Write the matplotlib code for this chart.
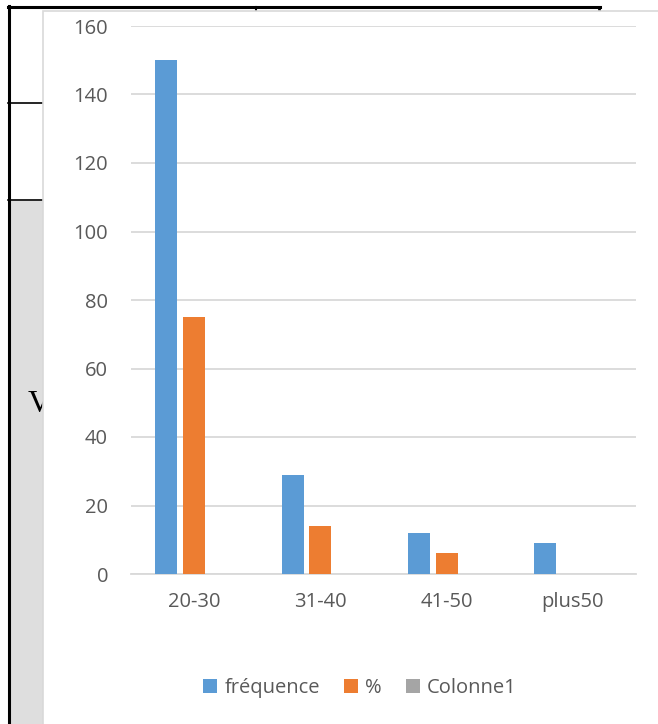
import numpy as np
import matplotlib.pyplot as plt
from matplotlib.patches import Rectangle
from matplotlib.lines import Line2D

categories = ['20-30', '31-40', '41-50', 'plus50']
frequence = [150, 29, 12, 9]
pourcent = [75, 14, 6, 0]
colonne1 = [0, 0, 0, 0]
series_names = ['fréquence', '%', 'Colonne1']
colors = ['#5b9bd5', '#ed7d31', '#a5a5a5']

plt.rcParams['font.family'] = ['Open Sans', 'DejaVu Sans']
W, H = 658, 724
fig = plt.figure(figsize=(W / 100, H / 100), dpi=100)


def px(x, y):
    return x / W, 1 - y / H


# word table behind the chart
fig.patches.append(Rectangle(px(10, H + 5), 34 / W, (H + 5 - 201) / H, transform=fig.transFigure,
                             facecolor='#dedede', edgecolor='none', zorder=-3))
fig.text(*px(28, 412), 'V', family='Liberation Serif', fontsize=23, color='black', zorder=-2)
for xs, ys, lw in [((9, 9), (6, H + 5), 2.2), ((8, 600), (7, 7), 2.2), ((599, 599), (7, 11), 2.0),
                   ((256, 256), (7, 11), 1.5), ((8, 43), (103, 103), 1.2), ((8, 43), (200, 200), 1.2)]:
    fig.lines.append(Line2D([xs[0] / W, xs[1] / W], [1 - ys[0] / H, 1 - ys[1] / H],
                            transform=fig.transFigure, color='black', lw=lw, zorder=-2))
# chart area
fig.patches.append(Rectangle(px(43, H + 10), (W - 43 + 10) / W, (H + 10 - 11) / H,
                             transform=fig.transFigure,
                             facecolor='white', edgecolor='#d9d9d9', lw=1.2, zorder=-1))

ax = fig.add_axes([131 / W, 150 / H, 505 / W, 548 / H])
ax.set_facecolor('none')
x = np.arange(len(categories))
w = 0.174
off = 0.22
for i, (vals, name) in enumerate(zip([frequence, pourcent, colonne1], series_names)):
    ax.bar(x + (i - 1) * off, vals, width=w, color=colors[i], label=name, zorder=3)

ax.set_xlim(-0.5, 3.5)
ax.set_ylim(0, 160)
ax.set_yticks(range(0, 161, 20))
ax.set_xticks(x)
ax.set_xticklabels(categories)
ax.grid(axis='y', color='#d9d9d9', lw=1.3, zorder=0)
for s in ['top', 'right', 'left']:
    ax.spines[s].set_visible(False)
ax.spines['bottom'].set_color('#d9d9d9')
ax.spines['bottom'].set_linewidth(1.3)
ax.tick_params(length=0, labelsize=14.5, labelcolor='#595959')
ax.tick_params(axis='y', pad=16.5)
ax.tick_params(axis='x', pad=13)

leg = fig.legend(loc='center', bbox_to_anchor=px(360, 688), ncol=3, frameon=False,
                 fontsize=14.5, handlelength=0.7, handleheight=0.7, handletextpad=0.35,
                 columnspacing=1.2)
for t in leg.get_texts():
    t.set_color('#595959')

fig.savefig('out.png', dpi=100)
